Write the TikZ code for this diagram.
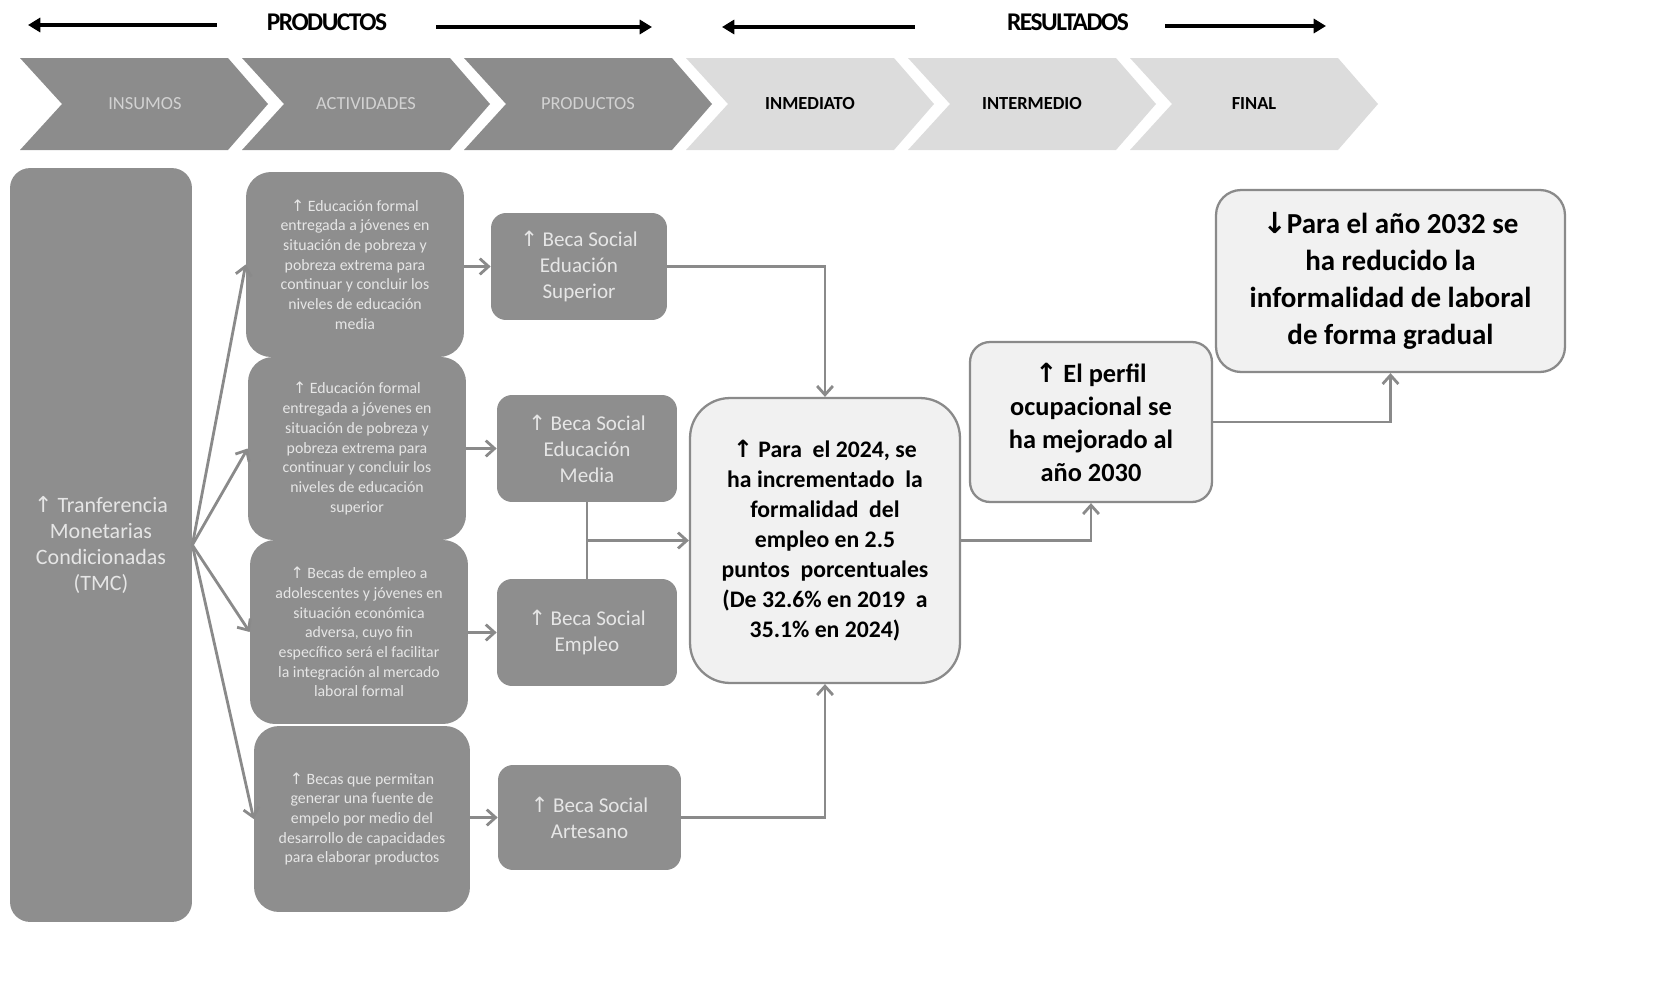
\documentclass[tikz,border=0pt]{standalone}
\usepackage{fontspec}
\setmainfont{Carlito}
\newfontfamily\symfont{DejaVu Sans}
\usepackage{tikz}
\usepackage{xcolor}
\usetikzlibrary{arrows.meta}
\definecolor{boxgray}{HTML}{8E8E8E}
\definecolor{boxtext}{HTML}{E6E6E6}
\definecolor{chevdark}{HTML}{8C8C8C}
\definecolor{chevlight}{HTML}{DCDCDC}
\definecolor{chevtext}{HTML}{D2D2D2}
\definecolor{linegray}{HTML}{8A8A8A}
\definecolor{lightfill}{HTML}{F1F1F1}
\newcommand{\uparr}{{\symfont ↑}}
\newcommand{\downarr}{{\symfont ↓}}

\begin{document}
\begin{tikzpicture}[x=0.02cm,y=-0.02cm,
    darkbox/.style={fill=boxgray,text=boxtext,align=center,inner sep=1pt},
    lightbox/.style={draw=linegray,line width=1.3pt,fill=lightfill,text=black,align=center,inner sep=1pt},
    conn/.style={draw=linegray,line width=1.6pt,-{Straight Barb[length=5pt,width=9pt]}},
    plainline/.style={draw=linegray,line width=1.6pt},
    toparrow/.style={line width=2.3pt,-{Triangle[length=7pt,width=8pt]}}]
        \useasboundingbox (0,0) rectangle (1664,987);
        % header
        \node[font=\bfseries\fontsize{14.5}{16}\selectfont\addfontfeature{LetterSpace=-6}] (hprod) at (327,22) {PRODUCTOS};
        \node[font=\bfseries\fontsize{14.5}{16}\selectfont\addfontfeature{LetterSpace=-6}] (hres) at (1068,22) {RESULTADOS};
        \coordinate (pl) at (28,25);
        \coordinate (pr) at (652,27);
        \coordinate (rl) at (722,27);
        \coordinate (rr) at (1326,26);
        \draw[toparrow] ([xshift=-0.88cm]hprod.west |- pl) -- (pl);
        \draw[toparrow] ([xshift=0.86cm]hprod.east |- pr) -- (pr);
        \draw[toparrow] ([xshift=-1.72cm]hres.west |- rl) -- (rl);
        \draw[toparrow] ([xshift=0.6cm]hres.east |- rr) -- (rr);
        % chevrons
        \fill[chevdark] (20,58) -- (228,58) -- (268,104) -- (228,150) -- (20,150) -- (62,104) -- cycle;
        \fill[chevdark] (242,58) -- (450,58) -- (490,104) -- (450,150) -- (242,150) -- (284,104) -- cycle;
        \fill[chevdark] (464,58) -- (672,58) -- (712,104) -- (672,150) -- (464,150) -- (506,104) -- cycle;
        \fill[chevlight] (686,58) -- (894,58) -- (934,104) -- (894,150) -- (686,150) -- (728,104) -- cycle;
        \fill[chevlight] (908,58) -- (1116,58) -- (1156,104) -- (1116,150) -- (908,150) -- (950,104) -- cycle;
        \fill[chevlight] (1130,58) -- (1338,58) -- (1378,104) -- (1338,150) -- (1130,150) -- (1172,104) -- cycle;
        \node[text=chevtext,font=\fontsize{10.5}{12}\selectfont] (cins) at (145,104) {INSUMOS};
        \node[text=chevtext,font=\fontsize{10.5}{12}\selectfont] (cact) at (366,104) {ACTIVIDADES};
        \node[text=chevtext,font=\fontsize{10.5}{12}\selectfont] (cprod) at (588,104) {PRODUCTOS};
        \node[font=\bfseries\fontsize{10.5}{12}\selectfont] (cinm) at (810,104) {INMEDIATO};
        \node[font=\bfseries\fontsize{10.5}{12}\selectfont] (cint) at (1032,104) {INTERMEDIO};
        \node[font=\bfseries\fontsize{10.5}{12}\selectfont] (cfin) at (1254,104) {FINAL};
        % insumo
        \node[darkbox,rounded corners=0.4cm,minimum width=3.64cm,minimum height=15.08cm,font=\fontsize{12.5}{14.8}\selectfont] (tmc) at (101,545)
            {\uparr\ Tranferencia\\Monetarias\\Condicionadas\\(TMC)};
        % actividades
        \node[darkbox,rounded corners=0.5cm,minimum width=4.36cm,minimum height=3.7cm,font=\fontsize{9}{11.2}\selectfont] (act1) at (355,264.5)
            {\uparr\ Educación formal\\entregada a jóvenes en\\situación de pobreza y\\pobreza extrema para\\continuar y concluir los\\niveles de educación\\media};
        \node[darkbox,rounded corners=0.5cm,minimum width=4.36cm,minimum height=3.66cm,font=\fontsize{9}{11.2}\selectfont] (act2) at (357,448.5)
            {\uparr\ Educación formal\\entregada a jóvenes en\\situación de pobreza y\\pobreza extrema para\\continuar y concluir los\\niveles de educación\\superior};
        \node[darkbox,rounded corners=0.5cm,minimum width=4.36cm,minimum height=3.68cm,font=\fontsize{9}{11.2}\selectfont] (act3) at (359,632)
            {\uparr\ Becas de empleo a\\adolescentes y jóvenes en\\situación económica\\adversa, cuyo fin\\específico será el facilitar\\la integración al mercado\\laboral formal};
        \node[darkbox,rounded corners=0.5cm,minimum width=4.32cm,minimum height=3.72cm,font=\fontsize{9}{11.2}\selectfont] (act4) at (362,819)
            {\uparr\ Becas que permitan\\generar una fuente de\\empelo por medio del\\desarrollo de capacidades\\para elaborar productos};
        % productos
        \node[darkbox,rounded corners=0.3cm,minimum width=3.52cm,minimum height=2.14cm,font=\fontsize{12}{14.8}\selectfont] (prod1) at (579,266.5)
            {\uparr\ Beca Social\\Eduación\\Superior};
        \node[darkbox,rounded corners=0.3cm,minimum width=3.6cm,minimum height=2.14cm,font=\fontsize{12}{14.8}\selectfont] (prod2) at (587,448.5)
            {\uparr\ Beca Social\\Educación\\Media};
        \node[darkbox,rounded corners=0.3cm,minimum width=3.6cm,minimum height=2.14cm,font=\fontsize{12}{14.8}\selectfont] (prod3) at (587,632.5)
            {\uparr\ Beca Social\\Empleo};
        \node[darkbox,rounded corners=0.3cm,minimum width=3.66cm,minimum height=2.1cm,font=\fontsize{12}{14.8}\selectfont] (prod4) at (589.5,817.5)
            {\uparr\ Beca Social\\Artesano};
        % resultados
        \node[lightbox,rounded corners=0.8cm,minimum width=5.4cm,minimum height=5.7cm,font=\bfseries\fontsize{13.5}{17}\selectfont] (res1) at (825,540.5)
            {\uparr\ Para \ el 2024, se\\ha incrementado \ la\\formalidad \ del\\empleo en 2.5\\puntos \ porcentuales\\(De 32.6\% en 2019 \ a\\35.1\% en 2024)};
        \node[lightbox,rounded corners=0.4cm,minimum width=4.84cm,minimum height=3.2cm,font=\bfseries\fontsize{15}{18.8}\selectfont] (res2) at (1091,422)
            {\uparr\ El perfil\\ocupacional se\\ha mejorado al\\año 2030};
        \node[lightbox,rounded corners=0.5cm,minimum width=6.98cm,minimum height=3.64cm,font=\bfseries\fontsize{16.5}{21}\selectfont] (res3) at (1390.5,281)
            {\downarr Para el año 2032 se\\ha reducido la\\informalidad de laboral\\de forma gradual};
        % conectores
        \draw[conn] (tmc.east) -- (act1.west);
        \draw[conn] (tmc.east) -- (act2.west);
        \draw[conn] (tmc.east) -- (act3.west);
        \draw[conn] (tmc.east) -- (act4.west);
        \draw[conn] (act1.east |- prod1.west) -- (prod1.west);
        \draw[conn] (act2.east |- prod2.west) -- (prod2.west);
        \draw[conn] (act3.east |- prod3.west) -- (prod3.west);
        \draw[conn] (act4.east |- prod4.west) -- (prod4.west);
        \draw[conn] (prod1.east) -| (res1.north);
        \draw[plainline] (prod2.south) -- (prod3.north);
        \coordinate (junc) at (prod2.south |- res1.west);
        \draw[conn] (junc) -- (res1.west);
        \draw[conn] (prod4.east) -| (res1.south);
        \draw[conn] (res1.east) -| (res2.south);
        \draw[conn] (res2.east) -| (res3.south);
    \end{tikzpicture}
\end{document}
